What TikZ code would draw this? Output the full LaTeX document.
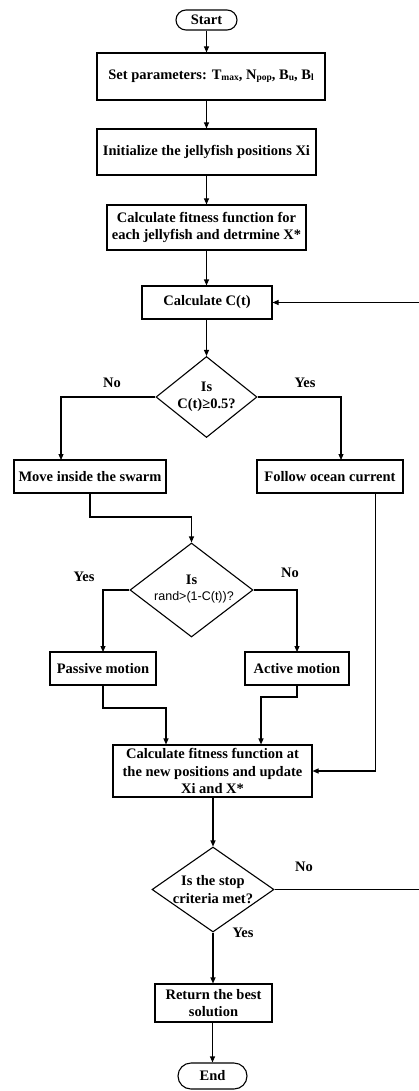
\documentclass[tikz,border=0pt]{standalone}
\usepackage{fontspec}
\setmainfont{Liberation Serif}
\newfontfamily\sansf{Liberation Sans}
\usetikzlibrary{shapes.geometric,arrows.meta}
\newcommand\sbs[1]{\raisebox{-1.2pt}{\fontsize{9.5}{9.5}\selectfont #1}}
\begin{document}
\begin{tikzpicture}[x=1pt,y=-1pt,
  every node/.style={font=\fontsize{14.5}{17.5}\selectfont\bfseries, inner sep=0pt, align=center, text=black},
  box/.style={draw, line width=1.1pt, rectangle},
  term/.style={draw, line width=1.1pt, rounded corners=10pt, rectangle},
  decision/.style={draw, line width=1.1pt, diamond},
  arr/.style={line width=1.1pt, -{Triangle[length=6pt,width=5pt]}},
  ln/.style={line width=1.1pt}
]
\useasboundingbox (0,0) rectangle (419,1091);

% nodes
\node[term, minimum width=61pt, minimum height=20pt] (start) at (206.5,20) {Start};
\node[box, minimum width=228pt, minimum height=47pt] (set) at (211,76.5)
  {Set parameters: T\sbs{max}, N\sbs{pop}, B\sbs{u}, B\sbs{l}};
\node[box, minimum width=219pt, minimum height=46pt] (init) at (206.5,152) {Initialize the jellyfish positions Xi};
\node[box, minimum width=199pt, minimum height=45pt] (fit) at (206.5,227.5) {Calculate fitness function for\\each jellyfish and detrmine X*};
\node[box, minimum width=130pt, minimum height=33pt] (calc) at (207,302.5) {Calculate C(t)};

\node[decision, minimum width=101pt, minimum height=81pt] (d1) at (206.5,397) {};
\node (d1t) at (206.5,397) {Is\\C(t)≥0.5?};
\node (no1) at (112,383) {No};
\node (yes1) at (305,383) {Yes};

\node[box, minimum width=152pt, minimum height=33pt] (move) at (90,476.5) {Move inside the swarm};
\node[box, minimum width=146pt, minimum height=33pt] (follow) at (330,476.5) {Follow ocean current};

\node[decision, minimum width=123pt, minimum height=94pt] (d2) at (191.5,590) {};
\node (d2a) at (191.5,580) {Is};
\node[font=\sansf\fontsize{12.5}{14}\selectfont] (d2b) at (194,597) {rand>(1-C(t))?};
\node (yes2) at (84,577) {Yes};
\node (no2) at (290,573) {No};

\node[box, minimum width=106pt, minimum height=33pt] (passive) at (103,668.5) {Passive motion};
\node[box, minimum width=104pt, minimum height=33pt] (active) at (297,668.5) {Active motion};

\node[box, minimum width=199pt, minimum height=52pt] (fin) at (212.5,771) {Calculate fitness function at\\the new positions and update\\Xi and X*};

\node[decision, minimum width=122pt, minimum height=85pt] (d3) at (213,889.5) {};
\node (d3t) at (213,889.5) {Is the stop\\criteria met?};
\node (no3) at (304,867) {No};
\node (yes3) at (243,933) {Yes};

\node[box, minimum width=117pt, minimum height=38pt] (ret) at (213.5,1003) {Return the best\\solution};
\node[term, minimum width=69pt, minimum height=26pt, rounded corners=13pt] (end) at (212.5,1076) {End};

% helper coordinates
\coordinate (mvin) at (61,460);
\coordinate (fcin) at (341,460);
\coordinate (j1) at (191.5,517);
\coordinate (pvin) at (103,652);
\coordinate (acin) at (297,652);
\coordinate (j2) at (166,708);
\coordinate (j3) at (261,697);
\coordinate (fcout) at (375.5,493);
\coordinate (lp) at (419.6,889.5);

% connectors
\draw[arr] (start.south) -- (start.south |- set.north);
\draw[arr] (set.south -| start.south) -- (start.south |- init.north);
\draw[arr] (init.south) -- (fit.north);
\draw[arr] (fit.south) -- (fit.south |- calc.north);
\draw[arr] (calc.south -| d1.north) -- (d1.north);
\draw[arr] (d1.west) -| (mvin);
\draw[arr] (d1.east) -| (fcin);
\draw[arr] (move.south) |- (j1) -- (d2.north);
\draw[arr] (d2.west) -| (pvin);
\draw[arr] (d2.east) -| (acin);
\draw[arr] (passive.south) |- (j2) -- (j2 |- fin.north);
\draw[arr] (active.south) |- (j3) -- (j3 |- fin.north);
\draw[arr] (fcout) |- (fin.east);
\draw[arr] (fin.south -| d3.north) -- (d3.north);
\draw[arr] (d3.east) -- (lp) |- (calc.east);
\draw[arr] (d3.south) -- (d3.south |- ret.north);
\draw[arr] (ret.south -| end.north) -- (end.north);
\end{tikzpicture}
\end{document}
